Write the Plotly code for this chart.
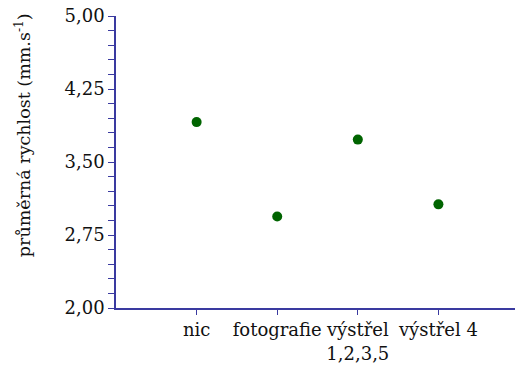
import plotly.graph_objects as go

categories = ["nic", "fotografie", "výstřel<br>1,2,3,5", "výstřel 4"]
positions = [1, 2, 3, 4]
values = [3.91, 2.94, 3.73, 3.065]
y_ticks = [2.00, 2.75, 3.50, 4.25, 5.00]
y_title = "průměrná rychlost (mm.s<sup>-1</sup>)"

axis_color = "#3a3aa0"
font = dict(family="DejaVu Serif", size=18, color="#111111")

fig = go.Figure(go.Scatter(
    x=positions, y=values, mode="markers",
    marker=dict(color="#006400", size=10),
))

fig.update_layout(
    width=515, height=365,
    margin=dict(l=116, r=0, t=16, b=57),
    paper_bgcolor="white", plot_bgcolor="white",
    showlegend=False, separators=", ",
    font=font,
)
fig.update_xaxes(
    range=[0, 4.95], tickvals=positions, ticktext=categories,
    showgrid=False, zeroline=False, showline=True, linecolor=axis_color, linewidth=1.5,
    ticks="outside", ticklen=5, tickcolor=axis_color, tickfont=font,
)
fig.update_yaxes(
    range=[2, 5], tickvals=y_ticks, tickformat=".2f",
    showgrid=False, zeroline=False, showline=True, linecolor=axis_color, linewidth=1.5,
    ticks="outside", ticklen=6, tickcolor=axis_color, tickfont=font,
    minor=dict(dtick=0.15, tick0=2, ticks="outside", ticklen=6, tickcolor=axis_color, showgrid=False),
)
fig.add_annotation(
    text=y_title, xref="paper", yref="paper", x=0, y=0.592,
    xshift=-93, xanchor="center", yanchor="middle", textangle=-90,
    showarrow=False, font=dict(family="DejaVu Serif", size=17.5, color="#111111"),
)

fig.write_html("out.html", config={"displayModeBar": False},
               post_script="document.body.style.margin='0';")
